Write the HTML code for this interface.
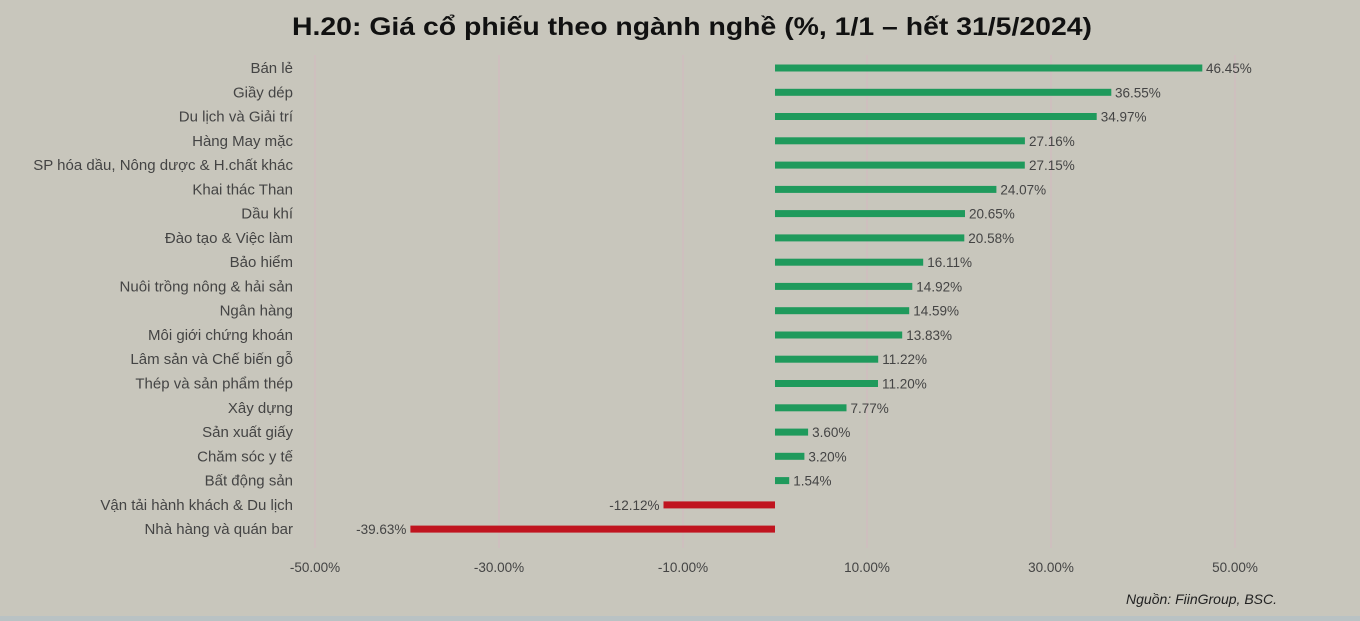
<!DOCTYPE html>
<html><head><meta charset="utf-8"><style>
html,body{margin:0;padding:0;background:#c8c6bc;}
svg{display:block;font-family:"Liberation Sans",sans-serif;}
</style></head><body>
<svg width="1360" height="621" viewBox="0 0 1360 621">
<rect width="1360" height="621" fill="#c8c6bc"/>
<rect y="616" width="1360" height="5" fill="#b9c2c4"/>
<text x="692" y="35" text-anchor="middle" font-size="25" font-weight="bold" fill="#111" textLength="800" lengthAdjust="spacingAndGlyphs">H.20: Giá cổ phiếu theo ngành nghề (%, 1/1 – hết 31/5/2024)</text>
<g stroke="#d4b8c0" stroke-width="1">
<line x1="315" y1="55" x2="315" y2="548"/><line x1="499" y1="55" x2="499" y2="548"/><line x1="683" y1="55" x2="683" y2="548"/>
<line x1="867" y1="55" x2="867" y2="548"/><line x1="1051" y1="55" x2="1051" y2="548"/><line x1="1235" y1="55" x2="1235" y2="548"/>
</g>
<g font-size="13.5" fill="#444">
<text x="315" y="572" text-anchor="middle">-50.00%</text>
<text x="499" y="572" text-anchor="middle">-30.00%</text>
<text x="683" y="572" text-anchor="middle">-10.00%</text>
<text x="867" y="572" text-anchor="middle">10.00%</text>
<text x="1051" y="572" text-anchor="middle">30.00%</text>
<text x="1235" y="572" text-anchor="middle">50.00%</text>
</g>
<text x="1277" y="604" text-anchor="end" font-size="14" font-style="italic" fill="#222">Nguồn: FiinGroup, BSC.</text>
<g font-size="15" fill="#444" text-anchor="end">
<text x="293" y="73">Bán lẻ</text>
<text x="293" y="97.3">Giầy dép</text>
<text x="293" y="121.5">Du lịch và Giải trí</text>
<text x="293" y="145.8">Hàng May mặc</text>
<text x="293" y="170.1">SP hóa dầu, Nông dược &amp; H.chất khác</text>
<text x="293" y="194.4">Khai thác Than</text>
<text x="293" y="218.6">Dầu khí</text>
<text x="293" y="242.9">Đào tạo &amp; Việc làm</text>
<text x="293" y="267.2">Bảo hiểm</text>
<text x="293" y="291.4">Nuôi trồng nông &amp; hải sản</text>
<text x="293" y="315.7">Ngân hàng</text>
<text x="293" y="340">Môi giới chứng khoán</text>
<text x="293" y="364.2">Lâm sản và Chế biến gỗ</text>
<text x="293" y="388.5">Thép và sản phẩm thép</text>
<text x="293" y="412.8">Xây dựng</text>
<text x="293" y="437.1">Sản xuất giấy</text>
<text x="293" y="461.3">Chăm sóc y tế</text>
<text x="293" y="485.6">Bất động sản</text>
<text x="293" y="509.9">Vận tải hành khách &amp; Du lịch</text>
<text x="293" y="534.1">Nhà hàng và quán bar</text>
</g>
<g fill="#1f9a5c">
<rect x="775" y="64.5" width="427.3" height="7"/>
<rect x="775" y="88.8" width="336.3" height="7"/>
<rect x="775" y="113" width="321.7" height="7"/>
<rect x="775" y="137.3" width="249.9" height="7"/>
<rect x="775" y="161.6" width="249.8" height="7"/>
<rect x="775" y="185.9" width="221.4" height="7"/>
<rect x="775" y="210.1" width="190" height="7"/>
<rect x="775" y="234.4" width="189.3" height="7"/>
<rect x="775" y="258.7" width="148.2" height="7"/>
<rect x="775" y="282.9" width="137.3" height="7"/>
<rect x="775" y="307.2" width="134.2" height="7"/>
<rect x="775" y="331.5" width="127.2" height="7"/>
<rect x="775" y="355.7" width="103.2" height="7"/>
<rect x="775" y="380" width="103" height="7"/>
<rect x="775" y="404.3" width="71.5" height="7"/>
<rect x="775" y="428.6" width="33.1" height="7"/>
<rect x="775" y="452.8" width="29.4" height="7"/>
<rect x="775" y="477.1" width="14.2" height="7"/>
</g>
<g fill="#c0141f">
<rect x="663.5" y="501.4" width="111.5" height="7"/>
<rect x="410.4" y="525.6" width="364.6" height="7"/>
</g>
<g font-size="13.5" fill="#444">
<text x="1206" y="73">46.45%</text>
<text x="1115" y="97.3">36.55%</text>
<text x="1100.7" y="121.5">34.97%</text>
<text x="1029" y="145.8">27.16%</text>
<text x="1029" y="170.1">27.15%</text>
<text x="1000.4" y="194.4">24.07%</text>
<text x="969" y="218.6">20.65%</text>
<text x="968.3" y="242.9">20.58%</text>
<text x="927.2" y="267.2">16.11%</text>
<text x="916.3" y="291.4">14.92%</text>
<text x="913.2" y="315.7">14.59%</text>
<text x="906.2" y="340">13.83%</text>
<text x="882.2" y="364.2">11.22%</text>
<text x="882" y="388.5">11.20%</text>
<text x="850.5" y="412.8">7.77%</text>
<text x="812.1" y="437.1">3.60%</text>
<text x="808.4" y="461.3">3.20%</text>
<text x="793.2" y="485.6">1.54%</text>
<text x="659.5" y="509.9" text-anchor="end">-12.12%</text>
<text x="406.4" y="534.1" text-anchor="end">-39.63%</text>
</g>
</svg>
</body></html>
